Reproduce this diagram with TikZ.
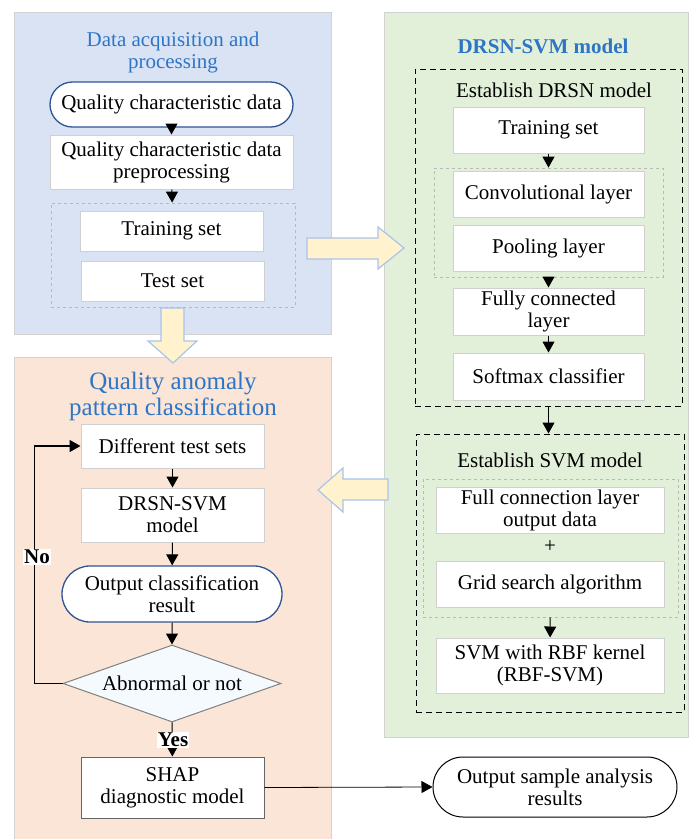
\documentclass[tikz,border=0pt]{standalone}
\usepackage{fontspec}
\setmainfont{Liberation Serif}
\usetikzlibrary{shapes.geometric,shapes.misc,arrows.meta}

\definecolor{panelblue}{HTML}{DAE3F3}
\definecolor{panelgreen}{HTML}{E2F0D9}
\definecolor{panelorange}{HTML}{FBE5D6}
\definecolor{titleblue}{HTML}{2E75C6}
\definecolor{termblue}{HTML}{2F5597}
\definecolor{bigarrowfill}{HTML}{FFF2CC}
\definecolor{bigarrowdraw}{HTML}{A9C4EB}
\definecolor{boxgray}{HTML}{D0D0D0}
\definecolor{diafill}{HTML}{F5FAFF}

\begin{document}
\begin{tikzpicture}[x=1pt,y=-1pt,
    font=\fontsize{21}{22}\selectfont,
    box/.style={draw=boxgray,fill=white,line width=1pt,align=center,inner sep=0pt},
    term/.style={rounded rectangle,draw=termblue,fill=white,line width=1.3pt,align=center,inner sep=0pt},
    grp/.style={draw=gray!55,dashed,line width=0.8pt,inner sep=0pt},
    stagebox/.style={draw=black,dash pattern=on 6pt off 4pt,line width=1pt,inner sep=0pt},
    arr/.style={-{Triangle[length=11pt,width=12pt]},line width=1pt},
    bigarrow/.style={fill=bigarrowfill,draw=bigarrowdraw,line width=1.2pt},
    heading/.style={text=titleblue,align=center}]
  \useasboundingbox (0,0) rectangle (689,839);

  % panels
  \filldraw[fill=panelblue,draw=gray!35,line width=1pt] (14,12) rectangle (331,334);
  \filldraw[fill=panelgreen,draw=gray!35,line width=1pt] (384,12) rectangle (688,737);
  \filldraw[fill=panelorange,draw=gray!35,line width=1pt] (14,357) rectangle (331,839);

  % big arrows between panels
  \filldraw[bigarrow] (161,308) -- (184,308) -- (184,341) -- (197,341) -- (173,363)
    -- (148,341) -- (161,341) -- cycle;
  \filldraw[bigarrow] (307,238) -- (378,238) -- (378,227) -- (404,248) -- (378,269)
    -- (378,259) -- (307,259) -- cycle;
  \filldraw[bigarrow] (388,479) -- (343,479) -- (343,468) -- (318,490) -- (343,512)
    -- (343,500) -- (388,500) -- cycle;

  % Data acquisition and processing
  \node[heading] (titleA) at (173,52) {Data acquisition and\\processing};
  \node[term,minimum width=243pt,minimum height=45pt] (qcd) at (171.5,104.5) {Quality characteristic data};
  \node[box,minimum width=243pt,minimum height=54pt] (pre) at (171.5,162) {Quality characteristic data\\preprocessing};
  \node[grp,minimum width=244pt,minimum height=104pt] (setsA) at (173,255) {};
  \node[box,minimum width=183pt,minimum height=40pt] (trainA) at (171.5,231) {Training set};
  \node[box,minimum width=183pt,minimum height=40pt] (testA) at (172.5,281) {Test set};
  \draw[arr] (qcd) -- (pre);
  \draw[arr] (pre) -- (setsA);

  % DRSN-SVM model
  \node[heading,font=\fontsize{21}{22}\selectfont\bfseries] (titleB) at (543,46) {DRSN-SVM model};
  \node[stagebox,minimum width=267pt,minimum height=337pt] (drsn) at (548.5,237.5) {};
  \node (drsnlab) at (554,90) {Establish DRSN model};
  \node[box,minimum width=191pt,minimum height=46pt] (trainB) at (548.5,130) {Training set};
  \node[grp,minimum width=229pt,minimum height=109pt] (layers) at (548.5,222.5) {};
  \node[box,minimum width=191pt,minimum height=46pt] (conv) at (548.5,194) {Convolutional layer};
  \node[box,minimum width=191pt,minimum height=46pt] (pool) at (548.5,248) {Pooling layer};
  \node[box,minimum width=191pt,minimum height=47pt] (fc) at (548.5,311.5) {Fully connected\\layer};
  \node[box,minimum width=191pt,minimum height=47pt] (soft) at (548.5,376.5) {Softmax classifier};
  \draw[arr] (trainB) -- (layers);
  \draw[arr] (layers) -- (fc);
  \draw[arr] (fc) -- (soft);

  \node[stagebox,minimum width=268pt,minimum height=278pt] (svm) at (550,573) {};
  \node (svmlab) at (550,460) {Establish SVM model};
  \node[grp,minimum width=255pt,minimum height=138pt] (inputs) at (550.5,548) {};
  \node[box,minimum width=228pt,minimum height=46pt] (fcl) at (550,510) {Full connection layer\\output data};
  \node (plus) at (550,547) {+};
  \node[box,minimum width=228pt,minimum height=46pt] (grid) at (550,584) {Grid search algorithm};
  \node[box,minimum width=228pt,minimum height=55pt] (rbf) at (550,665.5) {SVM with RBF kernel\\(RBF-SVM)};
  \draw[arr] (drsn.south -| soft.south) -- (svm.north -| soft.south);
  \draw[arr] (inputs) -- (rbf);

  % Quality anomaly pattern classification
  \node[heading,font=\fontsize{25}{26}\selectfont] (titleC) at (173,396) {Quality anomaly\\pattern classification};
  \node[box,minimum width=183pt,minimum height=44pt] (diff) at (172.5,446) {Different test sets};
  \node[box,minimum width=183pt,minimum height=54pt] (model) at (172.5,515) {DRSN-SVM\\model};
  \node[term,minimum width=220pt,minimum height=56pt] (ocr) at (172,594) {Output classification\\result};
  \node[diamond,draw=gray,fill=diafill,line width=1pt,inner sep=0pt,aspect=2.8,
    minimum width=218pt,minimum height=77pt] (dia) at (172,683.5) {Abnormal or not};
  \node[box,draw=black!60,minimum width=183pt,minimum height=61pt] (shap) at (172.5,787.5) {SHAP\\diagnostic model};
  \node[term,draw=black,line width=1pt,minimum width=244pt,minimum height=60pt] (osar) at (555,787) {Output sample analysis\\results};
  \draw[arr] (diff) -- (model);
  \draw[arr] (model) -- (ocr);
  \draw[arr] (ocr) -- (dia);
  \draw[arr] (dia) -- (shap);
  \draw[arr,line width=1.6pt] (dia.west) -- ++(-28,0) |- (diff.west);
  \draw[arr,line width=0.8pt] (shap.east) -- (osar.west);
  \node[fill=white,inner sep=1pt,font=\fontsize{21}{22}\selectfont\bfseries] (yes) at (173,740) {Yes};
  \node[fill=white,inner sep=1pt,font=\fontsize{21}{22}\selectfont\bfseries] (no) at (37,557) {No};
\end{tikzpicture}
\end{document}
